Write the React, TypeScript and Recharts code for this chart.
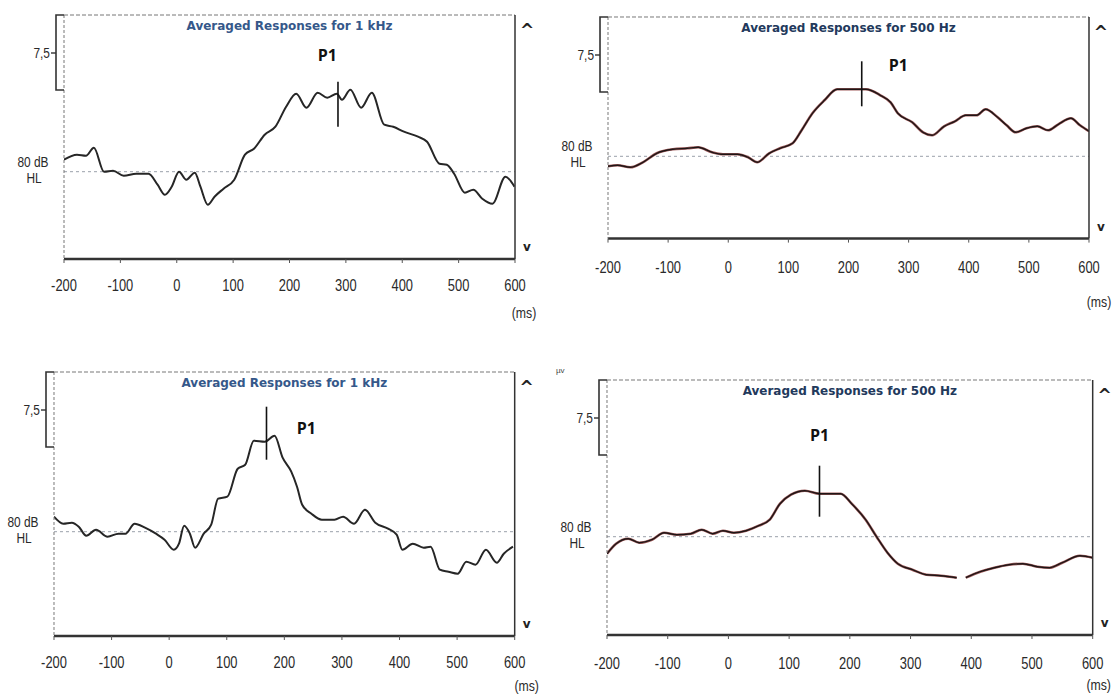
import React from 'react';
import { LineChart, Line, XAxis, YAxis, ReferenceLine, ReferenceDot } from 'recharts';

// x axis ticks (ms)
const TIME_TICKS = [-200, -100, 0, 100, 200, 300, 400, 500, 600];

// top left: 1 kHz
const p1Time = [-200, -177, -161, -147, -129, -113, -94, -72, -50, -34, -21, -9, 4, 17, 32, 42, 55, 67, 83, 102, 121, 137, 156, 175, 194, 212, 230, 250, 267, 284, 293, 308, 327, 346, 368, 384, 403, 428, 444, 466, 479, 492, 511, 526, 542, 560, 583, 599];
const p1Amp = [1.2, 1.7, 1.6, 2.4, 0, 0.1, -0.4, -0.2, -0.2, -1.3, -2.3, -1.5, 0, -0.8, -0.1, -1.5, -3.3, -2.5, -1.7, -0.8, 1.7, 2.3, 3.7, 4.5, 6.5, 7.8, 6.4, 7.9, 7.4, 7.8, 7.2, 8.2, 6.4, 7.9, 4.7, 4.5, 4.0, 3.5, 3.0, 0.8, 0.7, -0.2, -2.1, -1.8, -2.7, -3.2, -0.5, -1.5];

// top right: 500 Hz
const p2Time = [-200, -184, -163, -142, -119, -92, -68, -50, -27, -9, 15, 33, 48, 68, 86, 107, 122, 140, 160, 181, 205, 229, 253, 270, 282, 306, 324, 339, 359, 377, 395, 413, 428, 448, 463, 478, 496, 514, 532, 549, 570, 585, 600];
const p2Amp = [-1.0, -0.9, -1.1, -0.6, 0.3, 0.7, 0.8, 0.9, 0.4, 0.2, 0.2, -0.1, -0.6, 0.3, 0.8, 1.3, 2.6, 4.3, 5.6, 6.7, 6.7, 6.7, 6.1, 5.4, 4.3, 3.4, 2.4, 2.1, 3.0, 3.5, 4.1, 4.1, 4.7, 3.9, 3.1, 2.4, 2.8, 3.0, 2.6, 3.2, 3.8, 3.1, 2.5];

// bottom left: 1 kHz
const p3Time = [-200, -184, -169, -157, -144, -127, -107, -88, -76, -60, -42, -23, -8, 8, 17, 26, 36, 45, 60, 73, 85, 101, 119, 132, 147, 166, 183, 197, 212, 222, 231, 247, 265, 287, 302, 321, 340, 358, 380, 395, 405, 423, 442, 454, 470, 485, 501, 516, 532, 550, 569, 581, 597];
const p3Amp = [1.5, 0.8, 0.9, 0.5, -0.4, 0.2, -0.5, -0.2, -0.2, 0.8, 0.4, -0.2, -0.8, -1.8, -1.2, 0.6, -0.2, -1.6, -0.2, 0.7, 3.3, 3.5, 6.3, 6.7, 9.1, 9.0, 9.6, 7.4, 6.0, 4.5, 2.7, 1.8, 1.2, 1.2, 1.5, 0.8, 2.2, 0.9, 0.3, -0.3, -1.8, -1.2, -1.6, -1.5, -3.8, -4.0, -4.2, -3.0, -3.3, -1.8, -3.1, -2.2, -1.5];

// bottom right: 500 Hz (trace has a small gap near 380 ms)
const p4Time = [-200, -185, -165, -147, -126, -106, -85, -62, -44, -26, -9, 9, 29, 50, 68, 85, 103, 126, 150, 185, 203, 226, 244, 262, 279, 303, 326, 350, 376, 383, 391, 415, 438, 462, 485, 509, 529, 550, 579, 600];
const p4Amp = [-1.7, -0.7, -0.2, -0.6, -0.3, 0.4, 0.2, 0.3, 0.7, 0.3, 0.6, 0.4, 0.6, 1.1, 1.7, 3.3, 4.2, 4.6, 4.3, 4.3, 3.3, 1.7, 0, -1.6, -2.7, -3.3, -3.8, -3.9, -4.1, null, -4.1, -3.5, -3.1, -2.8, -2.7, -3.0, -3.1, -2.6, -1.9, -2.1];

// P1 markers: latency, top and bottom of the cursor line
const p1Marker = [286, 9.0, 4.5];
const p2Marker = [222, 9.5, 5.0];
const p3Marker = [169, 12.5, 7.2];
const p4Marker = [150, 7.1, 2.0];

// where the "P1" text sits (ms, µV)
const p1Label = [267, 11.7];
const p2Label = [283, 9.1];
const p3Label = [238, 10.4];
const p4Label = [150, 10.2];

const PX_PER_UNIT = 10;
const SCALE_MARK_PX = 38;

const SANS = "'Liberation Sans', Arial, sans-serif";

const panels = [
  { title: 'Averaged Responses for 1 kHz', time: p1Time, amp: p1Amp, marker: p1Marker, label: p1Label, red: false, titleColor: '#35588a',
    box: { left: 63.6, right: 514.6, top: 15, bottom: 259, base: 171.7 }, tickDy: 26, msDx: 9, msDy: 54 },
  { title: 'Averaged Responses for 500 Hz', time: p2Time, amp: p2Amp, marker: p2Marker, label: p2Label, red: true, titleColor: '#22395c',
    box: { left: 607.9, right: 1088.9, top: 16.7, bottom: 238.3, base: 156 }, tickDy: 28, msDx: 10, msDy: 63 },
  { title: 'Averaged Responses for 1 kHz', time: p3Time, amp: p3Amp, marker: p3Marker, label: p3Label, red: false, titleColor: '#35588a',
    box: { left: 53.6, right: 514.3, top: 372, bottom: 636, base: 531.7 }, tickDy: 26, msDx: 12, msDy: 50 },
  { title: 'Averaged Responses for 500 Hz', time: p4Time, amp: p4Amp, marker: p4Marker, label: p4Label, red: true, titleColor: '#22395c',
    box: { left: 606.8, right: 1092.5, top: 380, bottom: 635, base: 536.7 }, tickDy: 28, msDx: 6, msDy: 50 },
];

// condensed look of the instrument's printout font
function Narrow({ x, y, size, sx = 0.8, anchor = 'middle', dy = '0.35em', children }: any) {
  return (
    <text transform={`translate(${x},${y}) scale(${sx},1)`} textAnchor={anchor} dy={dy}
      fill="#2a2a2a" fontSize={size} fontFamily={SANS}>
      {children}
    </text>
  );
}

const xTick = (props: any) => {
  const { x, y, payload } = props;
  return <Narrow x={x} y={y} size={17} sx={0.76} dy="0.71em">{payload.value}</Narrow>;
};

const leftTick = (props: any) => {
  const { x, y, payload } = props;
  if (payload.value === 0) {
    return (
      <g>
        <Narrow x={x - 31} y={y - 10} size={14} sx={0.85}>80 dB</Narrow>
        <Narrow x={x - 30} y={y + 6} size={14} sx={0.85}>HL</Narrow>
      </g>
    );
  }
  return (
    <g>
      <path d={`M${x},${y - SCALE_MARK_PX} H${x - 8} V${y + 37} H${x}`} fill="none" stroke="#333" strokeWidth={1.6} />
      <line x1={x - 13} x2={x - 8} y1={y} y2={y} stroke="#333" strokeWidth={1.4} />
      <Narrow x={x - 14} y={y} size={14} sx={0.85} anchor="end">7,5</Narrow>
    </g>
  );
};

const rightTick = (props: any) => {
  const { x, y, payload } = props;
  const up = payload.value > 0;
  return (
    <text x={x + 12} y={up ? y + 5 : y} textAnchor="middle" dominantBaseline="central" fill="#222"
      fontFamily="'DejaVu Sans', sans-serif" fontWeight="bold" fontSize={up ? 17 : 12}>
      {up ? '^' : 'v'}
    </text>
  );
};

function Panel({ p }: { p: any }) {
  const { box } = p;
  const yMax = (box.base - box.top) / PX_PER_UNIT;
  const yMin = (box.base - box.bottom) / PX_PER_UNIT;
  const v75 = (box.base - box.top - SCALE_MARK_PX) / PX_PER_UNIT;
  const data = p.time.map((t: number, i: number) => ({ t, amp: p.amp[i] }));
  const width = box.right - box.left + 80;
  const height = box.bottom - box.top + 10 + 75;
  const [mt, mTop, mBottom] = p.marker;
  const [lt, lv] = p.label;

  return (
    <div style={{ position: 'absolute', left: box.left - 50, top: box.top - 10 }}>
      <LineChart width={width} height={height} data={data} margin={{ top: 10, right: 0, bottom: 0, left: 0 }}>
        <XAxis
          dataKey="t"
          type="number"
          domain={[-200, 600]}
          ticks={TIME_TICKS}
          interval={0}
          allowDataOverflow
          height={75}
          axisLine={{ stroke: '#333', strokeWidth: 2.5 }}
          tickLine={{ stroke: '#555' }}
          tickSize={4}
          tickMargin={p.tickDy - 10}
          tick={xTick}
          label={(lp: any) => {
            const vb = lp.viewBox || {};
            return (
              <Narrow x={vb.x + vb.width + p.msDx} y={vb.y + p.msDy} size={15} sx={0.82}>(ms)</Narrow>
            );
          }}
        />
        <YAxis
          yAxisId="l"
          type="number"
          domain={[yMin, yMax]}
          allowDataOverflow
          width={50}
          ticks={[v75, 0]}
          interval={0}
          tickSize={0}
          tickMargin={0}
          tickLine={false}
          axisLine={{ stroke: '#777', strokeDasharray: '3 2' }}
          tick={leftTick}
        />
        <YAxis
          yAxisId="r"
          orientation="right"
          type="number"
          domain={[yMin, yMax]}
          allowDataOverflow
          width={30}
          ticks={[yMax - 1.0, yMin + 1.2]}
          interval={0}
          tickSize={0}
          tickMargin={0}
          tickLine={false}
          axisLine={{ stroke: '#333', strokeWidth: 1.5 }}
          tick={rightTick}
        />
        <ReferenceLine
          yAxisId="l"
          y={yMax}
          stroke="#777"
          strokeDasharray="4 2"
          label={{ value: p.title, position: 'insideTop', offset: 6, fill: p.titleColor, fontSize: 12, fontWeight: 'bold', fontFamily: "'DejaVu Sans', sans-serif" }}
        />
        <ReferenceLine yAxisId="l" y={0} stroke="#9aa0aa" strokeDasharray="3 3" />
        {p.red && (
          <Line yAxisId="l" type="monotone" dataKey="amp" stroke="#a05c5c" strokeWidth={2.6} dot={false} isAnimationActive={false} />
        )}
        <Line yAxisId="l" type="monotone" dataKey="amp" stroke={p.red ? '#1e1616' : '#262626'} strokeWidth={p.red ? 1.4 : 2} dot={false} isAnimationActive={false} />
        <ReferenceLine yAxisId="l" segment={[{ x: mt, y: mTop }, { x: mt, y: mBottom }]} stroke="#111" strokeWidth={1.6} />
        <ReferenceDot
          yAxisId="l"
          x={lt}
          y={lv}
          r={0}
          shape={(sp: any) => (
            <text x={sp.cx} y={sp.cy} textAnchor="middle" dominantBaseline="central" fill="#111"
              fontFamily="'Open Sans', sans-serif" fontWeight="bold" fontSize={16}>P1</text>
          )}
        />
      </LineChart>
    </div>
  );
}

export default function App() {
  return (
    <div style={{ position: 'relative', width: 1114, height: 697, background: '#fff', overflow: 'hidden' }}>
      <style>{'body{margin:0}'}</style>
      {panels.map((p, i) => (
        <Panel key={i} p={p} />
      ))}
      <span style={{ position: 'absolute', left: 556, top: 366, fontSize: 8, fontFamily: SANS, color: '#444' }}>µv</span>
    </div>
  );
}
